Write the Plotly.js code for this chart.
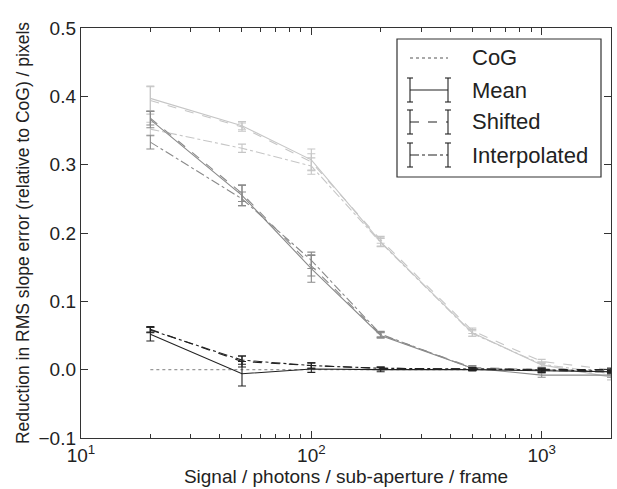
<!DOCTYPE html>
<html>
<head>
<meta charset="utf-8">
<script src="https://cdn.plot.ly/plotly-3.0.1.min.js"></script>
<style>html,body{margin:0;padding:0;background:#fff;}#chart{width:617px;height:489px;}</style>
</head>
<body>
<div id="chart"></div>
<script>
// ---- data ----
const signal = [20, 50, 100, 200, 500, 1000, 2000];
const cog = [0, 0, 0, 0, 0, 0, 0];

// light grey group
const meanLight   = [0.397, 0.357, 0.307, 0.187, 0.054, 0.007, -0.011];
const meanLightErr   = [0.018, 0.006, 0.016, 0.006, 0.005, 0.004, 0.004];
const shiftLight  = [0.394, 0.355, 0.304, 0.190, 0.057, 0.012, 0.000];
const shiftLightErr  = [0.020, 0.006, 0.012, 0.005, 0.004, 0.003, 0.003];
const interpLight = [0.352, 0.324, 0.298, 0.186, 0.053, 0.008, -0.006];
const interpLightErr = [0.010, 0.006, 0.012, 0.006, 0.004, 0.003, 0.003];

// dark grey group
const meanDark   = [0.366, 0.255, 0.148, 0.050, 0.002, -0.008, -0.008];
const meanDarkErr   = [0.012, 0.015, 0.020, 0.004, 0.003, 0.003, 0.003];
const shiftDark  = [0.368, 0.258, 0.152, 0.051, 0.003, 0.000, -0.003];
const shiftDarkErr  = [0.010, 0.012, 0.015, 0.004, 0.003, 0.003, 0.003];
const interpDark = [0.333, 0.250, 0.160, 0.052, 0.002, -0.001, -0.004];
const interpDarkErr = [0.010, 0.010, 0.012, 0.004, 0.003, 0.003, 0.003];

// black group
const meanBlack   = [0.052, -0.006, 0.001, 0.000, 0.000, -0.002, -0.003];
const meanBlackErr   = [0.010, 0.018, 0.005, 0.003, 0.002, 0.002, 0.002];
const shiftBlack  = [0.059, 0.012, 0.006, 0.002, 0.001, 0.000, 0.000];
const shiftBlackErr  = [0.004, 0.008, 0.004, 0.002, 0.002, 0.002, 0.002];
const interpBlack = [0.058, 0.014, 0.006, 0.002, 0.001, 0.000, -0.002];
const interpBlackErr = [0.004, 0.006, 0.004, 0.002, 0.002, 0.002, 0.002];

const legendNames = ['CoG', 'Mean', 'Shifted', 'Interpolated'];
const xTickVals = [10, 100, 1000];
const xTickText = ['10<sup>1</sup>', '10<sup>2</sup>', '10<sup>3</sup>'];
const xMinorVals = [20,30,40,50,60,70,80,90,200,300,400,500,600,700,800,900,2000];

// ---- styles ----
const LIGHT = '#c6c6c6', DARK = '#8a8a8a', BLACK = '#222222';
const FONT = 'Liberation Sans, Arial, Helvetica, sans-serif';

function tr(y, err, color, dash) {
  return {
    x: signal, y: y, type: 'scatter', mode: 'lines', showlegend: false,
    line: {color: color, width: 1.1, dash: dash},
    error_y: {type: 'data', array: err, visible: true, color: color, thickness: 1.1, width: 4}
  };
}

const traces = [
  {x: signal, y: cog, type: 'scatter', mode: 'lines', showlegend: false,
   line: {color: '#999999', width: 1.2, dash: 'dot'}},
  tr(meanLight, meanLightErr, LIGHT, 'solid'),
  tr(shiftLight, shiftLightErr, LIGHT, 'dash'),
  tr(interpLight, interpLightErr, LIGHT, 'dashdot'),
  tr(meanDark, meanDarkErr, DARK, 'solid'),
  tr(shiftDark, shiftDarkErr, DARK, 'dash'),
  tr(interpDark, interpDarkErr, DARK, 'dashdot'),
  tr(meanBlack, meanBlackErr, BLACK, 'solid'),
  tr(shiftBlack, shiftBlackErr, BLACK, 'dash'),
  tr(interpBlack, interpBlackErr, BLACK, 'dashdot'),
];

// ---- manual legend (paper coords from pixel positions) ----
const L = 81, R = 611, T = 28, B = 438;
const px = v => (v - L) / (R - L);
const py = v => (B - v) / (B - T);
const shapes = [];
const annotations = [];
shapes.push({type: 'rect', xref: 'paper', yref: 'paper', x0: px(397), x1: px(601), y0: py(177), y1: py(39),
  line: {color: '#333', width: 1.2}, fillcolor: 'rgba(255,255,255,1)', layer: 'above'});
const rowY = [58, 90, 122, 155];
const dashes = ['dot', 'solid', 'dash', 'dashdot'];
const sx0 = 410, sx1 = 448;
legendNames.forEach((name, i) => {
  const y = rowY[i];
  shapes.push({type: 'line', xref: 'paper', yref: 'paper', x0: px(sx0), x1: px(sx1), y0: py(y), y1: py(y),
    line: {color: i === 0 ? '#555' : BLACK, width: 1.1, dash: dashes[i]}, layer: 'above'});
  if (i > 0) {
    [sx0, sx1].forEach(cx => {
      shapes.push({type: 'line', xref: 'paper', yref: 'paper', x0: px(cx), x1: px(cx), y0: py(y - 12), y1: py(y + 12),
        line: {color: BLACK, width: 1.1}, layer: 'above'});
      [y - 12, y + 12].forEach(cy => {
        shapes.push({type: 'line', xref: 'paper', yref: 'paper', x0: px(cx - 3), x1: px(cx + 3), y0: py(cy), y1: py(cy),
          line: {color: BLACK, width: 1.1}, layer: 'above'});
      });
    });
  }
  annotations.push({xref: 'paper', yref: 'paper', x: px(470), y: py(y), text: name, showarrow: false,
    xanchor: 'left', yanchor: 'middle', font: {family: FONT, size: 22, color: '#222'}});
});

const layout = {
  width: 617, height: 489,
  margin: {l: L, r: 617 - R, t: T, b: 489 - B},
  paper_bgcolor: '#fff', plot_bgcolor: '#fff',
  font: {family: FONT, color: '#222'},
  showlegend: false,
  xaxis: {
    type: 'log', range: [1, Math.log10(2000)],
    tickmode: 'array', tickvals: xTickVals, ticktext: xTickText,
    ticks: 'inside', ticklen: 7, tickwidth: 1, tickcolor: '#333',
    minor: {tickmode: 'array', tickvals: xMinorVals, ticks: 'inside', ticklen: 4, tickcolor: '#333', showgrid: false},
    showline: true, linecolor: '#333', linewidth: 1.2, mirror: 'ticks',
    showgrid: false, zeroline: false,
    tickfont: {family: FONT, size: 19, color: '#222'},
    title: {text: 'Signal / photons / sub-aperture / frame', font: {family: FONT, size: 19, color: '#222'}, standoff: 2}
  },
  yaxis: {
    range: [-0.1, 0.5], dtick: 0.1, tick0: 0, tickformat: '.1f',
    ticks: 'inside', ticklen: 7, tickwidth: 1, tickcolor: '#333',
    showline: true, linecolor: '#333', linewidth: 1.2, mirror: 'ticks',
    showgrid: false, zeroline: false,
    tickfont: {family: FONT, size: 19, color: '#222'},
    title: {text: 'Reduction in RMS slope error (relative to CoG) / pixels', font: {family: FONT, size: 17.5, color: '#222'}, standoff: 4}
  },
  shapes: shapes,
  annotations: annotations
};

Plotly.newPlot('chart', traces, layout, {displayModeBar: false, staticPlot: true});
</script>
</body>
</html>
